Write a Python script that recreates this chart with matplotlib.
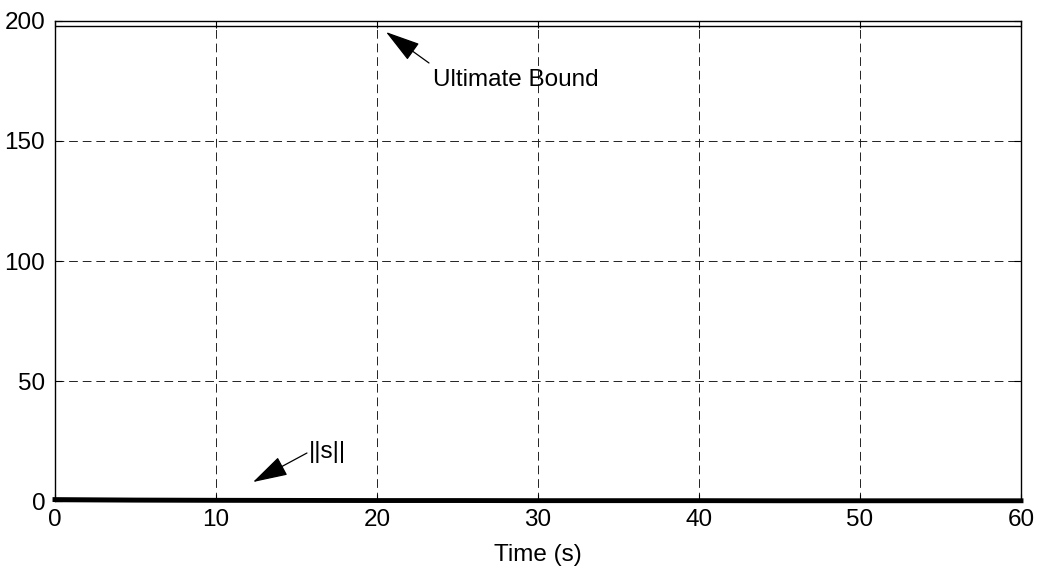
import matplotlib
matplotlib.use("Agg")
import matplotlib.pyplot as plt

plt.rcParams['font.family'] = ['Liberation Sans', 'DejaVu Sans']

# Sliding variable norm and the ultimate bound over time
time_s = [0, 5, 10, 15, 20, 25, 30, 35, 40, 45, 50, 55, 60]
s_norm = [0.6, 0.4, 0.3, 0.25, 0.2, 0.2, 0.15, 0.15, 0.15, 0.1, 0.1, 0.1, 0.1]
bound_time = [0, 60]
ultimate_bound = [198, 198]

x_ticks = [0, 10, 20, 30, 40, 50, 60]
y_ticks = [0, 50, 100, 150, 200]

FS = 17.5

fig = plt.figure(figsize=(10.39, 5.72), dpi=100)
ax = fig.add_axes([0.0529, 0.1241, 0.9298, 0.8392])

ax.plot(bound_time, ultimate_bound, color='black', linewidth=1.0)
ax.plot(time_s, s_norm, color='black', linewidth=3.5, clip_on=False)

ax.set_xlim(0, 60)
ax.set_ylim(0, 200)
ax.set_xticks(x_ticks)
ax.set_yticks(y_ticks)
ax.grid(True, color='#222222', linestyle=(0, (9, 5)), linewidth=0.7)
ax.tick_params(direction='in', length=5, labelsize=FS, width=0.8)
ax.tick_params(axis='x', top=True, pad=6)
ax.tick_params(axis='y', right=True, pad=7)
for sp in ax.spines.values():
    sp.set_linewidth(1.0)

ax.set_xlabel('Time (s)', fontsize=FS, labelpad=9)

arrow = dict(arrowstyle='-|>,head_length=1.1,head_width=0.32',
             color='black', lw=0.9, shrinkA=0, shrinkB=0, mutation_scale=20)

# Ultimate bound label and pointer
ax.annotate('', xy=(20.56, 195.4), xytext=(23.23, 182.5), arrowprops=arrow)
ax.text(23.5, 172.9, 'Ultimate Bound', fontsize=FS, va='baseline', ha='left')

# ||s|| label and pointer
ax.annotate('', xy=(12.3, 7.9), xytext=(15.65, 20.0), arrowprops=arrow)
ax.text(15.8, 20.4, '||s||', fontsize=FS, va='center', ha='left')

fig.savefig('out.png', dpi=100, facecolor='white')
